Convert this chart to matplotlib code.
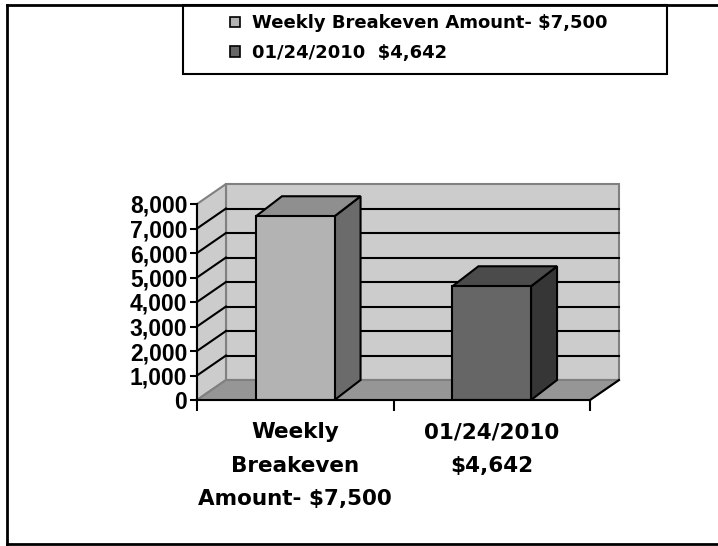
import matplotlib
matplotlib.use("Agg")
import matplotlib.pyplot as plt
from matplotlib.patches import Polygon, Rectangle, Patch
from matplotlib.lines import Line2D
from matplotlib.ticker import FuncFormatter

# data
categories = ["Weekly\nBreakeven\nAmount- $7,500", "01/24/2010\n$4,642"]
legend_labels = ["Weekly Breakeven Amount- $7,500", "01/24/2010  $4,642"]
values = [7500, 4642]
y_ticks = [0, 1000, 2000, 3000, 4000, 5000, 6000, 7000, 8000]

front_colors = ["#b3b3b3", "#666666"]
top_colors = ["#8f8f8f", "#4b4b4b"]
side_colors = ["#6b6b6b", "#363636"]

W, H = 718, 546
fig = plt.figure(figsize=(W / 100, H / 100), dpi=100)
fig.patch.set_facecolor("white")

# front plane of the 3d box, in pixels
x0_px, x1_px, y0_px, y1_px = 197, 590, 400, 204
ax = fig.add_axes([x0_px / W, (H - y0_px) / H, (x1_px - x0_px) / W, (y0_px - y1_px) / H])
ax.set_xlim(0, 2)
ax.set_ylim(0, 8000)
ax.set_facecolor("none")

# depth offsets in data units
px_x = 2 / (x1_px - x0_px)
px_y = 8000 / (y0_px - y1_px)
DX, DY = 29 * px_x, 20 * px_y
BDX, BDY = 26 * px_x, 20 * px_y
ymax = y_ticks[-1]

wall = "#cccccc"
edge = "#808080"
# back wall
ax.add_patch(Polygon([(DX, DY), (2 + DX, DY), (2 + DX, ymax + DY), (DX, ymax + DY)],
                     closed=True, fc=wall, ec=edge, lw=1.5, clip_on=False, zorder=1))
# side wall
ax.add_patch(Polygon([(0, 0), (DX, DY), (DX, ymax + DY), (0, ymax)],
                     closed=True, fc=wall, ec=edge, lw=1.5, clip_on=False, zorder=1))
# floor
ax.add_patch(Polygon([(0, 0), (2, 0), (2 + DX, DY), (DX, DY)],
                     closed=True, fc="#969696", ec=edge, lw=1.5, clip_on=False, zorder=1))
ax.plot([2, 2 + DX], [0, DY], color="black", lw=1.5, clip_on=False, zorder=2)

# gridlines on walls
for v in y_ticks[1:-1]:
    ax.plot([DX, 2 + DX], [v + DY, v + DY], color="black", lw=1.5, clip_on=False, zorder=2)
    ax.plot([0, DX], [v, v + DY], color="black", lw=1.5, clip_on=False, zorder=2)

# bars
xs = [0.5, 1.5]
bw = 0.4
for i, (x, v) in enumerate(zip(xs, values)):
    l, r = x - bw / 2, x + bw / 2
    ax.add_patch(Polygon([(r, 0), (r + BDX, BDY), (r + BDX, v + BDY), (r, v)],
                         closed=True, fc=side_colors[i], ec="black", lw=1.5, clip_on=False, zorder=3))
    ax.add_patch(Polygon([(l, v), (r, v), (r + BDX, v + BDY), (l + BDX, v + BDY)],
                         closed=True, fc=top_colors[i], ec="black", lw=1.5, clip_on=False, zorder=3))
    ax.bar(x, v, width=bw, color=front_colors[i], edgecolor="black", linewidth=1.5, zorder=4)

# axes
for s in ["top", "right"]:
    ax.spines[s].set_visible(False)
for s in ["left", "bottom"]:
    ax.spines[s].set_linewidth(1.5)
    ax.spines[s].set_zorder(5)

ax.set_yticks(y_ticks)
ax.yaxis.set_major_formatter(FuncFormatter(lambda v, p: f"{int(v):,}"))
ax.tick_params(axis="y", direction="out", length=5, width=1.5, pad=2)
for t in ax.get_yticklabels():
    t.set_fontfamily("Liberation Sans")
    t.set_fontweight("bold")
    t.set_fontsize(16.5)

ax.set_xticks([0, 1, 2])
ax.set_xticklabels(["", "", ""])
ax.tick_params(axis="x", which="major", direction="out", length=8, width=1.5)
ax.set_xticks(xs, minor=True)
ax.set_xticklabels(categories, minor=True, fontsize=15.5, fontweight="bold",
                   fontfamily="DejaVu Sans", linespacing=1.85)
ax.tick_params(axis="x", which="minor", length=0, pad=16)

# outer frame (no right edge visible)
fy = lambda y: (H - y) / H
fx = lambda x: x / W
fig.add_artist(Line2D([fx(6.5), fx(6.5)], [fy(5), fy(544)], color="black", lw=2, transform=fig.transFigure))
fig.add_artist(Line2D([fx(6.5), 1], [fy(5), fy(5)], color="black", lw=2, transform=fig.transFigure))
fig.add_artist(Line2D([fx(6.5), 1], [fy(544), fy(544)], color="black", lw=2, transform=fig.transFigure))

# legend box
fig.add_artist(Rectangle((fx(183), fy(74)), fx(667) - fx(183), fy(5) - fy(74),
                         fill=False, ec="black", lw=1.5, transform=fig.transFigure))
handles = [Patch(fc=c, ec="black", lw=1.2) for c in front_colors]
fig.legend(handles, legend_labels, loc="upper left", bbox_to_anchor=(fx(216), fy(0)),
           frameon=False, prop={"family": "DejaVu Sans", "weight": "bold", "size": 13},
           handlelength=0.55, handleheight=0.55, handletextpad=0.65, labelspacing=0.65,
           borderpad=0.3)

fig.savefig("out.png", dpi=100)
